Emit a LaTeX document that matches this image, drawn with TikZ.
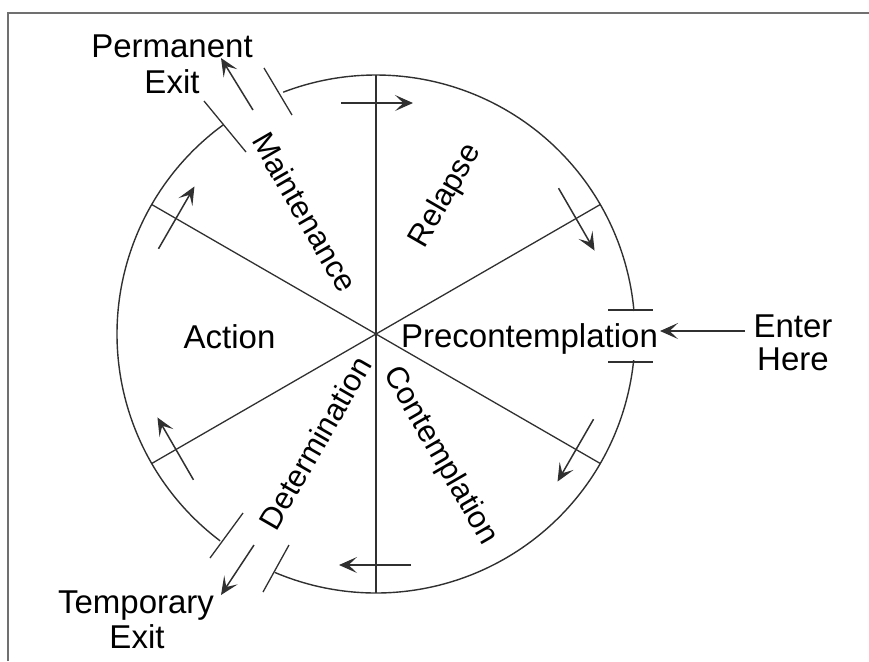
\documentclass[tikz,border=0pt]{standalone}
\usepackage{fontspec}
\setmainfont{Liberation Sans}
\usetikzlibrary{arrows.meta,calc}
\definecolor{ink}{HTML}{303030}
\definecolor{framegray}{HTML}{707070}
\begin{document}
\begin{tikzpicture}[x=0.5pt,y=-0.5pt,
  ring/.style={draw=ink,line width=0.7pt},
  spoke/.style={draw=ink,line width=0.65pt},
  tick/.style={draw=ink,line width=0.65pt},
  flow/.style={draw=ink,line width=0.75pt,-{Stealth[length=9pt,width=8pt,inset=4.2pt]}},
  lbl/.style={inner sep=0pt,font=\fontsize{16.5}{19}\selectfont},
  rlbl/.style={inner sep=0pt,font=\fontsize{15.5}{18}\selectfont},
  frameline/.style={draw=framegray,line width=0.6pt}]
\useasboundingbox (0,0) rectangle (869,661);
% frame
\draw[frameline] (8,661) -- (8,13) -- (869,13);
% wheel
\coordinate (O) at (376,334);
\draw[ring] (O) ++(-5.1:259) arc[start angle=-5.1, end angle=-111, radius=259];
\draw[ring] (O) ++(-126:259) arc[start angle=-126, end angle=-233, radius=259];
\draw[ring] (O) ++(-247:259) arc[start angle=-247, end angle=-354.2, radius=259];
\foreach \a in {90,30,-30,-90,-150,150} {
  \draw[spoke] (O) -- ++(\a:259);
}
% clockwise arrows
\foreach \p in {-90,-30,30,90,150,210} {
  \draw[flow] ($(O)+(\p:231)+(\p+90:-35)$) -- ($(O)+(\p:231)+(\p+90:37)$);
}
% entry gap
\draw[tick] (608,310) -- (653,310);
\draw[tick] (608,362) -- (653,362);
% permanent exit gap
\draw[tick] (264,68) -- (292,115);
\draw[tick] (204,101) -- (246,152);
% temporary exit gap
\draw[tick] (243,513) -- (210,558);
\draw[tick] (289,545) -- (263,592);
% labels
\node[lbl,anchor=base] (pre) at (529.5,347) {Precontemplation};
\node[lbl,anchor=base] (act) at (229.5,348) {Action};
\node[lbl,anchor=base] (ent1) at (793,337) {Enter};
\node[lbl,anchor=base] (ent2) at (793,370) {Here};
\node[lbl,anchor=base] (perm1) at (172,57) {Permanent};
\node[lbl,anchor=base] (perm2) at (172,93) {Exit};
\node[lbl,anchor=base] (temp1) at (136,613) {Temporary};
\node[lbl,anchor=base] (temp2) at (137,648) {Exit};
\node[rlbl,rotate=60] (rel) at (446,196) {Relapse};
\node[rlbl,rotate=-60] (mai) at (305,212) {Maintenance};
\node[rlbl,rotate=60] (det) at (315,443) {Determination};
\node[rlbl,rotate=-60] (con) at (440,456) {Contemplation};
% entry and exit arrows
\coordinate (entS) at (745,331);
\coordinate (entE) at (660,331);
\draw[flow] (entS) -- (entE);
\coordinate (pexS) at (253,110);
\coordinate (pexE) at (221,58);
\draw[flow] (pexS) -- (pexE);
\coordinate (texS) at (254,545);
\coordinate (texE) at (221,595);
\draw[flow] (texS) -- (texE);
\end{tikzpicture}
\end{document}
